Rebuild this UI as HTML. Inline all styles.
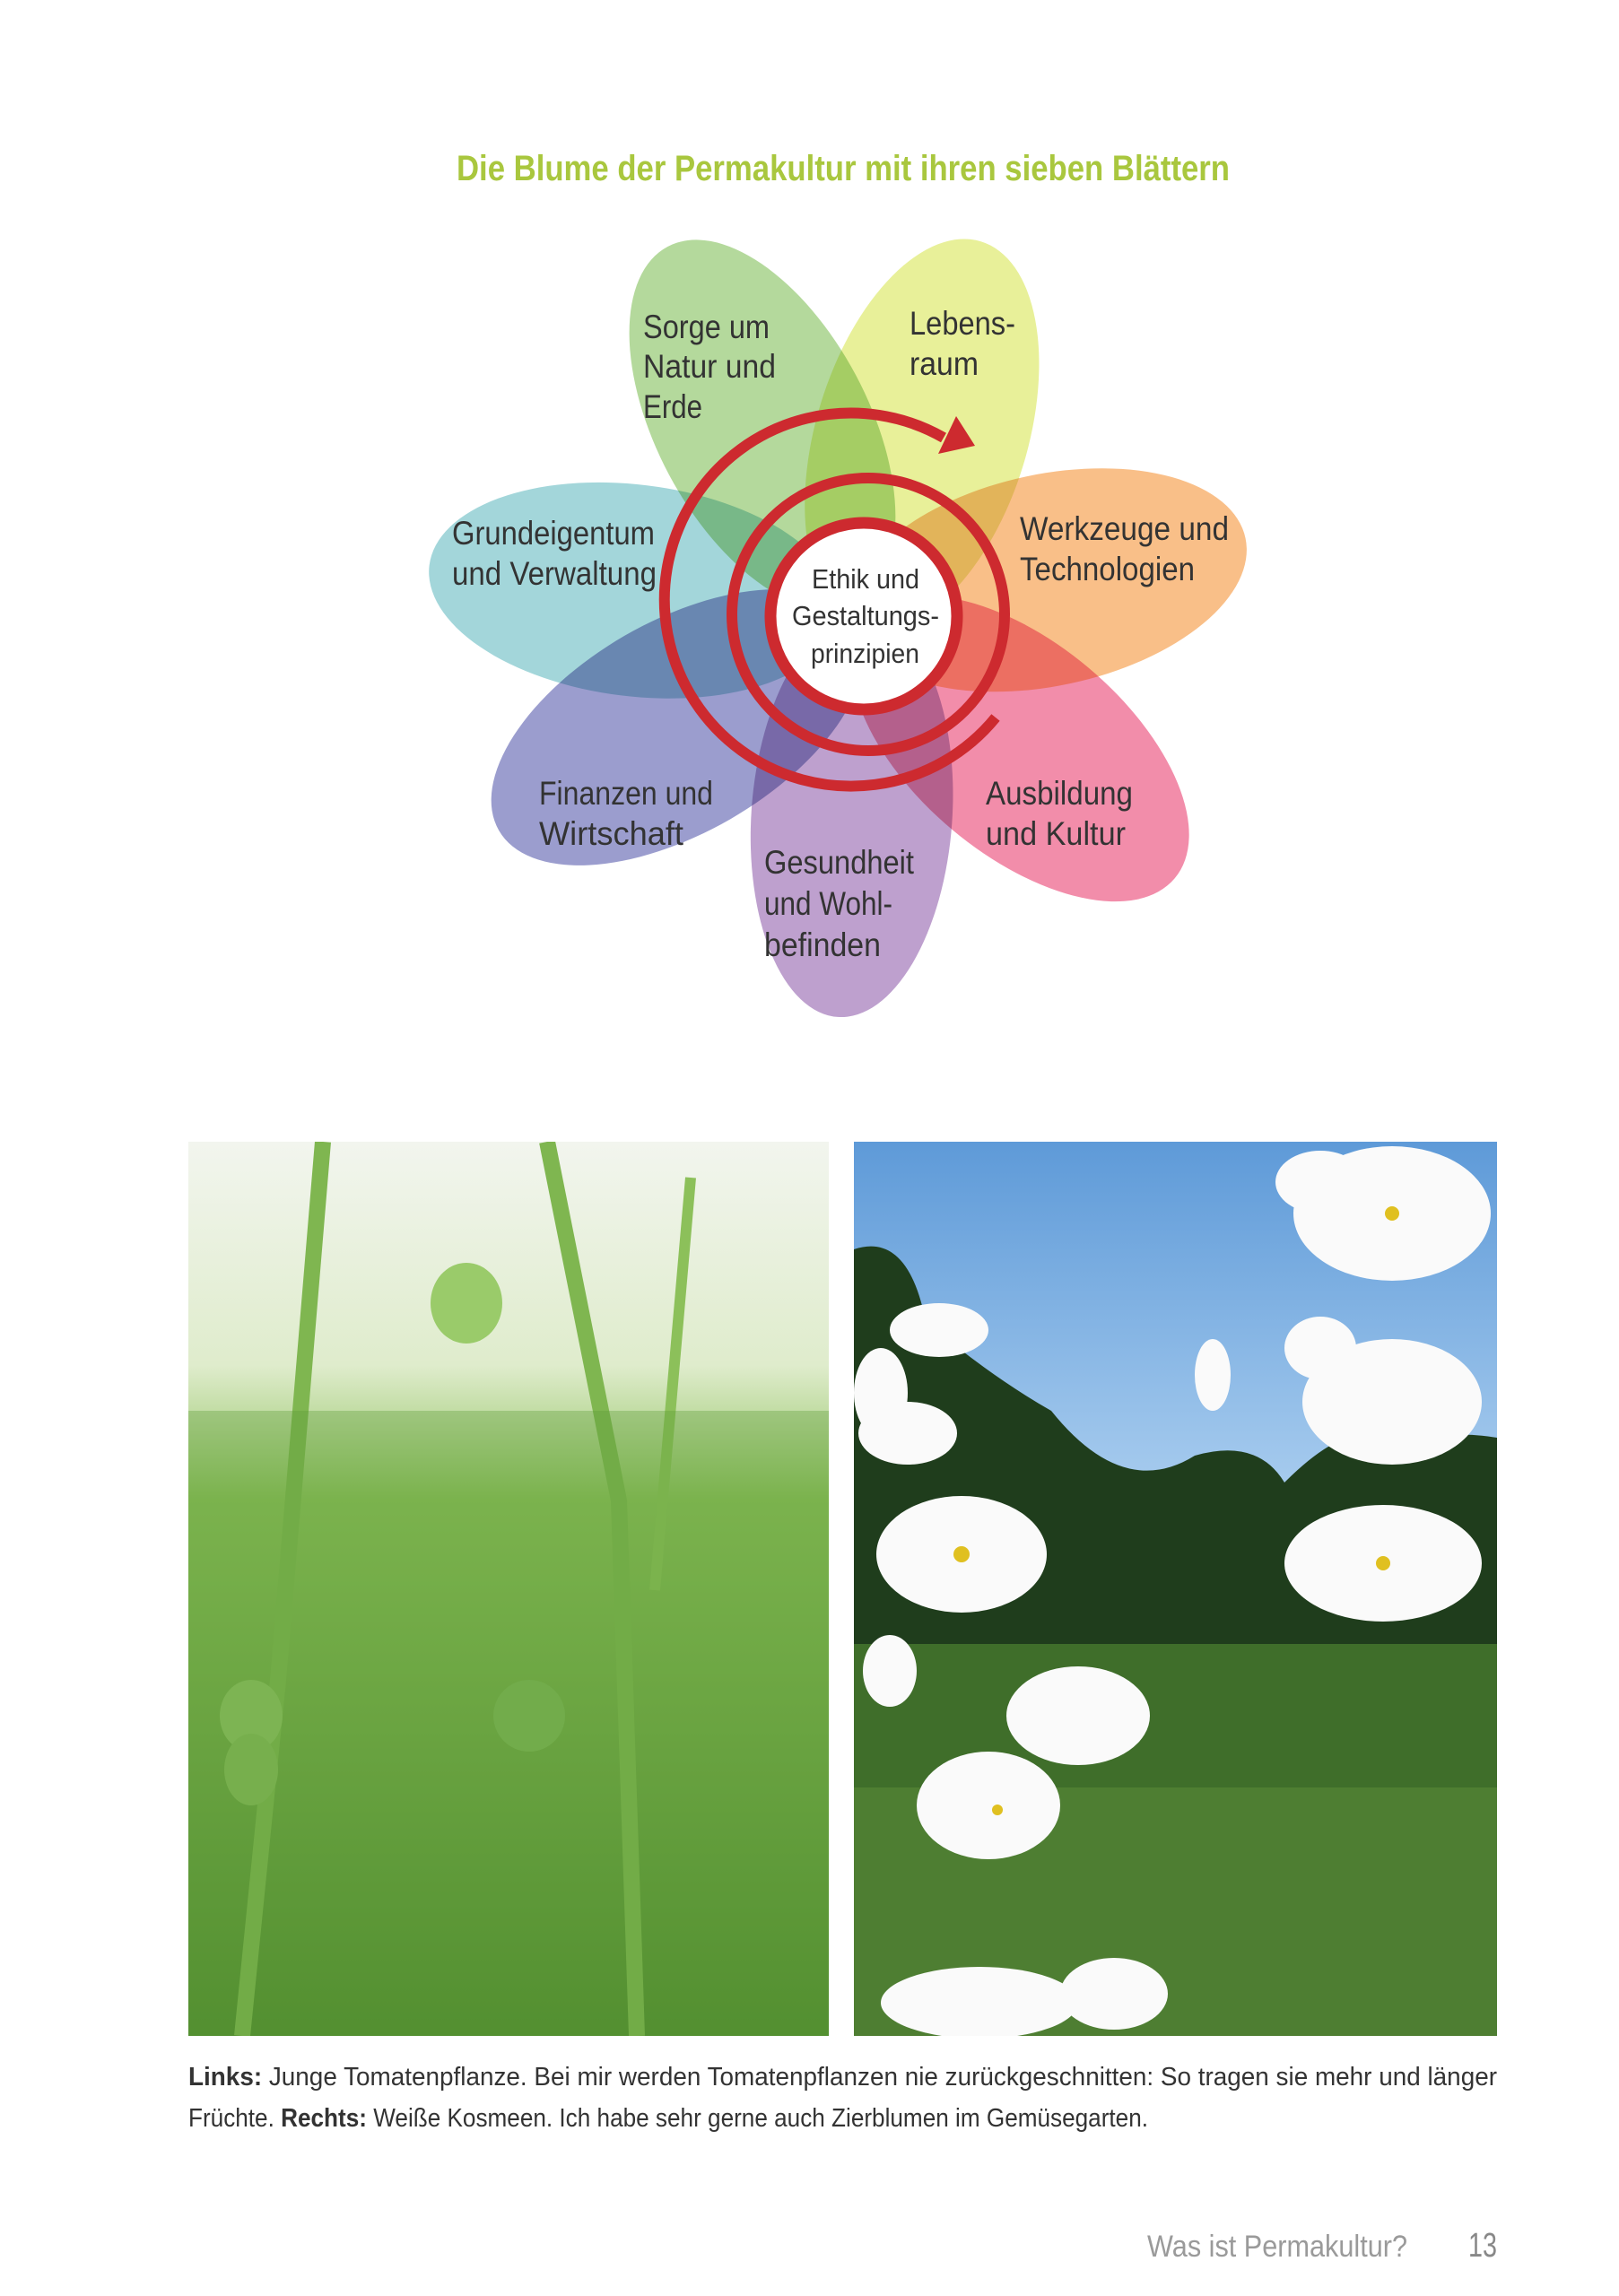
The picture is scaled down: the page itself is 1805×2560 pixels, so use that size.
<!DOCTYPE html>
<html><head><meta charset="utf-8">
<style>
html,body{margin:0;padding:0;background:#fff;}
body{width:1805px;height:2560px;position:relative;overflow:hidden;font-family:"Liberation Sans",sans-serif;}
</style></head><body>
<svg width="1805" height="1200" style="position:absolute;left:0;top:0" font-family="'Liberation Sans',sans-serif">
<text x="509" y="201" textLength="862" lengthAdjust="spacingAndGlyphs" font-size="40" fill="#a9c73e" font-weight="bold">Die Blume der Permakultur mit ihren sieben Blättern</text>
<g opacity="0.85">
<g style="mix-blend-mode:multiply"><ellipse cx="0" cy="0" rx="225" ry="118" fill="#a8d38b" transform="translate(965,690) rotate(-118) translate(245,0)"/></g>
<g style="mix-blend-mode:multiply"><ellipse cx="0" cy="0" rx="225" ry="118" fill="#e4ee88" transform="translate(965,690) rotate(-73) translate(215,0)"/></g>
<g style="mix-blend-mode:multiply"><ellipse cx="0" cy="0" rx="225" ry="118" fill="#f8b474" transform="translate(965,690) rotate(-12) translate(208,0)"/></g>
<g style="mix-blend-mode:multiply"><ellipse cx="0" cy="0" rx="225" ry="118" fill="#f07a9c" transform="translate(965,690) rotate(40) translate(225,0)"/></g>
<g style="mix-blend-mode:multiply"><ellipse cx="0" cy="0" rx="225" ry="112" fill="#b390c6" transform="translate(965,690) rotate(94) translate(220,0)"/></g>
<g style="mix-blend-mode:multiply"><ellipse cx="0" cy="0" rx="230" ry="118" fill="#8a8dc6" transform="translate(965,690) rotate(150) translate(242,0)"/></g>
<g style="mix-blend-mode:multiply"><ellipse cx="0" cy="0" rx="230" ry="118" fill="#93d0d4" transform="translate(965,690) rotate(-173) translate(260,0)"/></g>
</g>
<circle cx="963" cy="687" r="104" fill="#fff" stroke="#cd2a2f" stroke-width="13"/>
<circle cx="968" cy="685" r="152" fill="none" stroke="#cd2a2f" stroke-width="12"/>
<path d="M1110 800 A208 208 0 1 1 1052 488" fill="none" stroke="#cd2a2f" stroke-width="12"/>
<polygon points="1087,497 1066,464 1046,506" fill="#cd2a2f"/>
<g font-size="37" fill="#333" lengthAdjust="spacingAndGlyphs">
<text x="717" y="377" textLength="141" lengthAdjust="spacingAndGlyphs">Sorge um</text><text x="717" y="421" textLength="148" lengthAdjust="spacingAndGlyphs">Natur und</text><text x="717" y="466" textLength="66" lengthAdjust="spacingAndGlyphs">Erde</text>
<text x="1014" y="373" textLength="118" lengthAdjust="spacingAndGlyphs">Lebens-</text><text x="1014" y="418" textLength="77" lengthAdjust="spacingAndGlyphs">raum</text>
<text x="504" y="607" textLength="226" lengthAdjust="spacingAndGlyphs">Grundeigentum</text><text x="504" y="652" textLength="228" lengthAdjust="spacingAndGlyphs">und Verwaltung</text>
<text x="1137" y="602" textLength="233" lengthAdjust="spacingAndGlyphs">Werkzeuge und</text><text x="1137" y="647" textLength="195" lengthAdjust="spacingAndGlyphs">Technologien</text>
<text x="601" y="897" textLength="194" lengthAdjust="spacingAndGlyphs">Finanzen und</text><text x="601" y="942" textLength="161" lengthAdjust="spacingAndGlyphs">Wirtschaft</text>
<text x="1099" y="897" textLength="164" lengthAdjust="spacingAndGlyphs">Ausbildung</text><text x="1099" y="942" textLength="156" lengthAdjust="spacingAndGlyphs">und Kultur</text>
<text x="852" y="974" textLength="167" lengthAdjust="spacingAndGlyphs">Gesundheit</text><text x="852" y="1020" textLength="143" lengthAdjust="spacingAndGlyphs">und Wohl-</text><text x="852" y="1066" textLength="130" lengthAdjust="spacingAndGlyphs">befinden</text>
</g>
<g font-size="31" fill="#333">
<text x="905" y="656" textLength="120" lengthAdjust="spacingAndGlyphs">Ethik und</text><text x="883" y="697" textLength="164" lengthAdjust="spacingAndGlyphs">Gestaltungs-</text><text x="904" y="739" textLength="121" lengthAdjust="spacingAndGlyphs">prinzipien</text>
</g>
</svg>
<svg width="714" height="997" style="position:absolute;left:210px;top:1273px">
<defs><linearGradient id="lg" x1="0" y1="0" x2="0" y2="1"><stop offset="0" stop-color="#f2f5ee"/><stop offset="0.25" stop-color="#dfeccc"/><stop offset="0.4" stop-color="#8cc05a"/><stop offset="1" stop-color="#4f8a2e"/></linearGradient></defs>
<rect width="714" height="997" fill="url(#lg)"/>
<path d="M150 0 L100 600 L60 997" stroke="#7fb650" stroke-width="18" fill="none"/>
<path d="M400 0 L480 400 L500 997" stroke="#7fb650" stroke-width="18" fill="none"/>
<path d="M560 40 L520 500" stroke="#8cc05a" stroke-width="12" fill="none"/>
<ellipse cx="310" cy="180" rx="40" ry="45" fill="#9acb6a"/>
<ellipse cx="70" cy="640" rx="35" ry="40" fill="#8fc263"/>
<ellipse cx="70" cy="700" rx="30" ry="40" fill="#86bb5a"/>
<ellipse cx="380" cy="640" rx="40" ry="40" fill="#7eb556"/>
<rect y="300" width="714" height="697" fill="#5d9a36" opacity="0.35"/>
</svg>
<svg width="717" height="997" style="position:absolute;left:952px;top:1273px">
<defs><linearGradient id="sk" x1="0" y1="0" x2="0" y2="1"><stop offset="0" stop-color="#5e9ad8"/><stop offset="0.4" stop-color="#a9cdef"/></linearGradient></defs>
<rect width="717" height="997" fill="url(#sk)"/>
<path d="M0 120 Q60 100 80 200 Q150 260 220 300 Q300 400 380 350 Q450 330 480 380 Q560 300 600 340 Q660 320 717 330 L717 600 L0 600Z" fill="#1f3d1c"/>
<rect y="560" width="717" height="437" fill="#3f6e2a"/>
<rect y="720" width="717" height="277" fill="#4e7e32"/>
<g fill="#fafafa">
<ellipse cx="120" cy="460" rx="95" ry="65"/><ellipse cx="60" cy="325" rx="55" ry="35"/><ellipse cx="95" cy="210" rx="55" ry="30"/>
<ellipse cx="30" cy="280" rx="30" ry="50"/><ellipse cx="600" cy="80" rx="110" ry="75"/><ellipse cx="520" cy="45" rx="50" ry="35"/>
<ellipse cx="600" cy="290" rx="100" ry="70"/><ellipse cx="520" cy="230" rx="40" ry="35"/><ellipse cx="400" cy="260" rx="20" ry="40"/>
<ellipse cx="590" cy="470" rx="110" ry="65"/><ellipse cx="250" cy="640" rx="80" ry="55"/><ellipse cx="150" cy="740" rx="80" ry="60"/>
<ellipse cx="140" cy="960" rx="110" ry="40"/><ellipse cx="290" cy="950" rx="60" ry="40"/><ellipse cx="40" cy="590" rx="30" ry="40"/>
</g>
<g fill="#e0c020"><circle cx="120" cy="460" r="9"/><circle cx="600" cy="80" r="8"/><circle cx="590" cy="470" r="8"/><circle cx="160" cy="745" r="6"/></g>
</svg>
<svg width="1805" height="300" style="position:absolute;left:0;top:2260px" font-family="'Liberation Sans',sans-serif" font-size="29" fill="#333">
<text x="210" y="65" textLength="1459" lengthAdjust="spacingAndGlyphs"><tspan font-weight="bold">Links:</tspan> Junge Tomatenpflanze. Bei mir werden Tomatenpflanzen nie zurückgeschnitten: So tragen sie mehr und länger</text>
<text x="210" y="111" textLength="1070" lengthAdjust="spacingAndGlyphs">Früchte. <tspan font-weight="bold">Rechts:</tspan> Weiße Kosmeen. Ich habe sehr gerne auch Zierblumen im Gemüsegarten.</text>
<text x="1279" y="256" font-size="34" fill="#9a9a9a" textLength="290" lengthAdjust="spacingAndGlyphs">Was ist Permakultur?</text>
<text x="1637" y="256" font-size="38" fill="#888" textLength="32" lengthAdjust="spacingAndGlyphs">13</text>
</svg>
</body></html>
